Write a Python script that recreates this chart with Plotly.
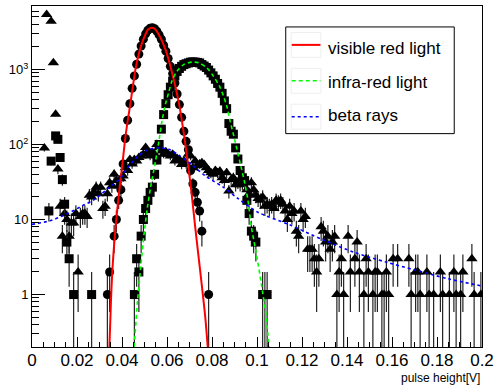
import numpy as np
import plotly.graph_objects as go

# ---------------- data ----------------
bin_width = 0.001          # histogram bin width [V]; bin k is centred at (k+0.5)*bin_width

visible_counts = (
    [0]*20 +
    [0]*13 + [1, 2, 0, 6, 10, 18, 25] +
    [55, 120, 210, 350, 560, 820, 1170, 1600, 2050, 2530, 2980, 3330, 3540, 3590, 3480, 3230, 2880, 2520, 2100, 1750] +
    [1400, 1100, 880, 660, 470, 340, 230, 150, 110, 85, 45, 30, 23, 17, 13, 7, 0, 0, 1, 0] +
    [0]*120
)

infrared_counts = (
    [0, 0, 0, 0, 0, 0, 0, 13, 60, 0, 130, 117, 67, 34, 16, 5, 3, 0, 1, 0] +
    [0, 0, 0, 0, 0, 0, 1, 0, 0, 0, 0, 0, 0, 0, 0, 0, 0, 0, 0, 0] +
    [0, 0, 0, 0, 0, 1, 3, 2, 6, 10, 14, 18, 23, 27, 40, 62, 100, 160, 250, 350] +
    [460, 580, 700, 820, 940, 1030, 1100, 1160, 1190, 1220, 1250, 1260, 1250, 1240, 1220, 1160, 1110, 1060, 980, 900] +
    [820, 740, 650, 580, 480, 380, 300, 190, 150, 137, 90, 64, 45, 36, 33, 18, 12, 7, 6, 5] +
    [0, 0, 1, 1, 1] + [0]*95
)

beta_counts = (
    [0, 0, 0, 0, 0, 90, 5400, 0, 4370, 1230, 253, 47, 15, 6, 12, 10, 6, 9, 9, 12] +
    [2, 11, 12, 12, 11, 21, 20, 23, 27, 22, 27, 14, 15, 22, 31, 28, 40, 33, 28, 35] +
    [38, 49, 45, 63, 55, 63, 60, 67, 70, 74, 91, 80, 70, 78, 74, 100, 91, 82, 74, 80] +
    [74, 70, 74, 60, 65, 63, 54, 60, 55, 74, 70, 49, 60, 52, 55, 57, 54, 49, 45, 42] +
    [40, 45, 42, 44, 36, 33, 42, 24, 34, 36, 29, 31, 29, 30, 31, 25, 22, 31, 25, 21] +
    [19, 18, 20, 15, 16, 15, 16, 14, 18, 17, 18, 16, 13, 10, 15, 12, 13, 7, 6, 13] +
    [10, 11, 4, 4, 4, 3, 2, 3, 8, 7, 5, 6, 4, 5, 6, 1, 2, 3, 1, 0] +
    [6, 2, 0, 3, 5, 2, 0, 1, 3, 2, 0, 1, 2, 2, 0, 1, 1, 2, 1, 0] +
    [3, 0, 3, 0, 0, 0, 0, 3, 1, 0, 2, 2, 1, 0, 0, 2, 1, 0, 1, 0] +
    [0, 2, 1, 0, 0, 1, 0, 2, 1, 0, 1, 2, 0, 0, 0, 3, 1, 0, 0, 1]
)

# fitted curves
visible_fit_x = [0.0344, 0.0351, 0.0358, 0.0369, 0.0383, 0.0400, 0.0417, 0.0439, 0.0461, 0.0480, 0.0498,
                 0.0515, 0.0531, 0.0545, 0.0564, 0.0593, 0.0622, 0.0652, 0.0674, 0.0696, 0.0711, 0.0726,
                 0.0748, 0.0770, 0.0781]
visible_fit_y = [0.2, 0.83, 2.3, 6.5, 17.8, 49, 138, 380, 1050, 1850, 2650, 3380, 3600, 3480, 2900, 1850,
                 920, 370, 145, 48, 20, 7.6, 2.0, 0.5, 0.2]

infrared_fit_x = [0.0454, 0.0469, 0.0483, 0.0498, 0.0513, 0.0527, 0.0549, 0.0564, 0.0578, 0.0593, 0.0608,
                  0.0622, 0.0645, 0.0674, 0.0711, 0.0740, 0.0777, 0.0806, 0.0836, 0.0865, 0.0879, 0.0901,
                  0.0923, 0.0943, 0.0960, 0.0975, 0.0997, 0.1019, 0.1041, 0.1053]
infrared_fit_y = [0.2, 0.83, 2.3, 6.4, 14.5, 26.8, 60, 111, 206, 343, 500, 700, 950, 1160, 1250, 1228, 1050,
                  815, 575, 330, 215, 115, 60, 33, 17.8, 8, 3.5, 1.4, 0.5, 0.2]

beta_fit_x = [0.0, 0.0079, 0.0154, 0.0225, 0.0278, 0.0351, 0.0388, 0.0423, 0.0467, 0.0511, 0.0564, 0.0608,
              0.0652, 0.0709, 0.0771, 0.0850, 0.0916, 0.1004, 0.1145, 0.1291, 0.1432, 0.1577, 0.1700,
              0.1850, 0.2]
beta_fit_y = [8.6, 9.6, 11.8, 15.3, 18.5, 28, 34, 48, 68, 84, 90, 86, 72, 54, 38, 27, 19, 12.5, 8.5, 5.4,
              3.65, 2.69, 2.13, 1.62, 1.3]

x_tick_vals = [0, 0.02, 0.04, 0.06, 0.08, 0.1, 0.12, 0.14, 0.16, 0.18, 0.2]
x_tick_text = ["0", "0.02", "0.04", "0.06", "0.08", "0.1", "0.12", "0.14", "0.16", "0.18", "0.2"]
y_tick_vals = [1, 10, 100, 1000]
y_tick_text = ["1", "10", "10<sup>2</sup>", "10<sup>3</sup>"]

legend_labels = ["visible red light", "infra-red light", "beta rays"]

# ---------------- figure ----------------
W, H = 499, 385
L, R, T, B = 32, 13, 5, 38
FONT = "Liberation Sans, Arial, Helvetica, sans-serif"


def hist_trace(counts, symbol, size):
    c = np.array(counts, dtype=float)
    k = np.arange(len(c))
    m = c > 0
    xs = (k[m] + 0.5) * bin_width
    ys = c[m]
    err = np.sqrt(ys)
    return go.Scatter(
        x=xs, y=ys, mode="markers",
        marker=dict(symbol=symbol, size=size, color="black", line=dict(width=0)),
        error_y=dict(type="data", array=err, visible=True, color="#222222", thickness=1.2, width=0),
        showlegend=False, hoverinfo="skip",
    )


fig = go.Figure()
fig.add_trace(hist_trace(beta_counts, "triangle-up", 10))
fig.add_trace(hist_trace(visible_counts, "circle", 9))
fig.add_trace(hist_trace(infrared_counts, "square", 9))

fig.add_trace(go.Scatter(x=visible_fit_x, y=visible_fit_y, mode="lines",
                         line=dict(color="#ff0000", width=2, shape="spline", smoothing=0.8),
                         showlegend=False, hoverinfo="skip"))
fig.add_trace(go.Scatter(x=infrared_fit_x, y=infrared_fit_y, mode="lines",
                         line=dict(color="#00ff00", width=1.6, dash="4px,3px", shape="spline", smoothing=0.8),
                         showlegend=False, hoverinfo="skip"))
fig.add_trace(go.Scatter(x=beta_fit_x, y=beta_fit_y, mode="lines",
                         line=dict(color="#0000ff", width=1.6, dash="dot", shape="spline", smoothing=0.8),
                         showlegend=False, hoverinfo="skip"))

# ---- hand-drawn legend (paper coordinates derived from pixel layout) ----
pw, ph = W - L - R, H - T - B


def px(xp):
    return (xp - L) / pw


def py(yp):
    return (H - B - yp) / ph


shapes = [dict(type="rect", xref="paper", yref="paper", x0=px(288), x1=px(458), y0=py(133), y1=py(26),
               line=dict(color="black", width=1), fillcolor="white", layer="above")]
legend_rows = [(44, 48, "#ff0000", "solid", 2), (80, 81.5, "#00ff00", "4px,3px", 1.6),
               (116, 114.5, "#0000ff", "dot", 1.6)]
annotations = []
for (ly, ty, col, dash, lw), lab in zip(legend_rows, legend_labels):
    shapes.append(dict(type="rect", xref="paper", yref="paper", x0=px(293.5), x1=px(323.5),
                       y0=py(ly + 12.5), y1=py(ly - 12.5), line=dict(color="#eeeeee", width=1),
                       layer="above"))
    shapes.append(dict(type="line", xref="paper", yref="paper", x0=px(294), x1=px(323), y0=py(ly), y1=py(ly),
                       line=dict(color=col, width=lw, dash=dash), layer="above"))
    annotations.append(dict(xref="paper", yref="paper", x=px(329), y=py(ty), text=lab, showarrow=False,
                            xanchor="left", yanchor="middle", font=dict(family=FONT, size=17, color="black")))

annotations.append(dict(xref="paper", yref="paper", x=1.0, y=py(378.5), text="pulse height[V]", showarrow=False,
                        xanchor="right", yanchor="middle", font=dict(family=FONT, size=12, color="black")))

fig.update_layout(
    width=W, height=H, margin=dict(l=L, r=R, t=T, b=B, pad=0),
    paper_bgcolor="white", plot_bgcolor="white",
    shapes=shapes, annotations=annotations, showlegend=False,
    font=dict(family=FONT, color="black"),
)
fig.update_xaxes(
    range=[0, 0.2], showgrid=False, zeroline=False,
    showline=True, linecolor="black", linewidth=1, mirror=True,
    ticks="inside", ticklen=10, tickcolor="black", tickwidth=1,
    tickvals=x_tick_vals, ticktext=x_tick_text, tickfont=dict(family=FONT, size=17),
    ticklabelstandoff=-2,
    minor=dict(ticks="inside", ticklen=5, dtick=0.005, tickcolor="black", showgrid=False),
)
fig.update_yaxes(
    type="log", range=[np.log10(0.2), 3.845], showgrid=False, zeroline=False,
    showline=True, linecolor="black", linewidth=1, mirror=True,
    ticks="inside", ticklen=13, tickcolor="black", tickwidth=1,
    tickvals=y_tick_vals, ticktext=y_tick_text, tickfont=dict(family=FONT, size=13),
    minor=dict(ticks="inside", ticklen=7, dtick="D1", tickcolor="black", showgrid=False),
)

fig.write_html("out.html", config={"displayModeBar": False},
               post_script="document.body.style.margin='0';document.body.style.padding='0';")
